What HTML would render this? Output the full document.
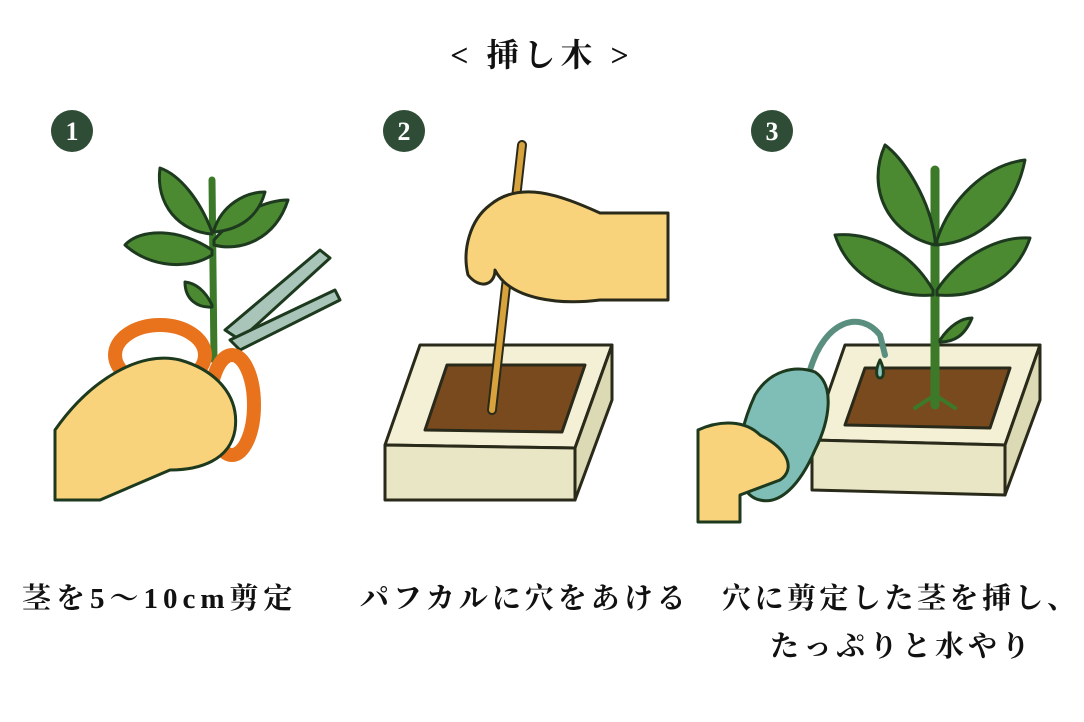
<!DOCTYPE html>
<html><head><meta charset="utf-8"><style>
html,body{margin:0;padding:0;background:#fff;width:1084px;height:722px;overflow:hidden}
.t{position:absolute;font-family:"Liberation Serif","Noto Serif CJK SC","Noto Sans CJK JP",serif;font-weight:bold;color:#111;white-space:nowrap;font-size:29px;letter-spacing:4px}
</style></head><body>
<svg width="1084" height="722" style="position:absolute;left:0;top:0" stroke-linejoin="round" stroke-linecap="round">
<g fill="#2f4d36"><circle cx="72" cy="131" r="21"/><circle cx="404" cy="131" r="21"/><circle cx="772" cy="131" r="21"/></g>
<g fill="#fff" font-family="Liberation Serif,serif" font-weight="bold" font-size="26" text-anchor="middle"><text x="72" y="140">1</text><text x="404" y="140">2</text><text x="772" y="140">3</text></g>
<!-- panel 1 -->
<g stroke="#1d3a1f" stroke-width="3">
<path d="M212 180 L214 360" fill="none" stroke="#3c7a2a" stroke-width="7"/>
<path d="M212 250 C180 228 140 228 125 245 C150 268 190 270 212 255Z" fill="#4c8a32"/>
<path d="M214 240 C240 210 270 200 288 200 C275 240 240 252 214 245Z" fill="#4c8a32"/>
<path d="M212 232 C200 200 180 175 160 168 C155 205 180 232 212 234Z" fill="#4c8a32"/>
<path d="M214 230 C222 205 245 192 265 192 C258 218 238 230 214 232Z" fill="#4c8a32"/>
<path d="M212 305 C205 290 195 283 185 282 C185 300 198 308 212 307Z" fill="#4c8a32"/>
<path d="M225 330 L320 250 L330 258 L240 340Z" fill="#a9c4b8"/>
<path d="M230 340 L335 290 L340 300 L240 350Z" fill="#a9c4b8"/>
<ellipse cx="160" cy="355" rx="45" ry="30" fill="none" stroke="#e8731c" stroke-width="14"/>
<ellipse cx="232" cy="405" rx="22" ry="50" fill="none" stroke="#e8731c" stroke-width="14"/>
<path d="M55 430 C90 380 140 350 180 360 C215 370 240 395 235 430 C230 460 200 470 170 470 L100 500 L55 500Z" fill="#f8d37c"/>
</g>
<!-- panel 2 -->
<g stroke="#2a2a1a" stroke-width="3">
<path d="M385 445 L420 345 L612 345 L575 448Z" fill="#f3f0d5"/>
<path d="M385 445 L575 448 L575 500 L385 500Z" fill="#e9e6c6"/>
<path d="M575 448 L612 345 L612 400 L575 500Z" fill="#dcd9b5"/>
<path d="M425 430 L447 365 L585 365 L562 432Z" fill="#7a4a1f"/>
<path d="M522 145 L492 410" stroke="#2a2a1a" stroke-width="10"/>
<path d="M522 145 L492 410" stroke="#d8a23c" stroke-width="6"/>
<path d="M668 213 L600 213 C560 195 520 180 490 205 C470 220 462 250 468 275 C480 290 495 285 495 270 C510 300 560 305 600 300 L668 300Z" fill="#f8d37c"/>
</g>
<!-- panel 3 -->
<g stroke="#2a2a1a" stroke-width="3">
<path d="M812 440 L845 345 L1040 345 L1005 445Z" fill="#f3f0d5"/>
<path d="M812 440 L1005 445 L1005 495 L812 490Z" fill="#e9e6c6"/>
<path d="M1005 445 L1040 345 L1040 400 L1005 495Z" fill="#dcd9b5"/>
<path d="M845 425 L865 368 L1010 368 L990 428Z" fill="#7a4a1f"/>
</g>
<g stroke="#1d3a1f" stroke-width="3">
<path d="M935 170 L935 405" stroke="#3c7a2a" stroke-width="9"/>
<path d="M915 408 L935 395 L955 408" fill="none" stroke="#3c7a2a" stroke-width="4"/>
<path d="M935 240 C930 200 905 160 885 145 C865 190 890 235 935 245Z" fill="#4c8a32"/>
<path d="M937 240 C950 200 985 165 1025 160 C1015 210 980 242 937 245Z" fill="#4c8a32"/>
<path d="M933 290 C910 250 870 232 835 235 C850 280 895 298 933 295Z" fill="#4c8a32"/>
<path d="M937 290 C960 255 1000 236 1030 238 C1015 282 975 298 937 295Z" fill="#4c8a32"/>
<path d="M940 340 C950 325 962 318 972 318 C965 335 955 342 940 342Z" fill="#4c8a32"/>
<path d="M810 370 C825 320 860 310 880 335 L885 355" fill="none" stroke="#5a8f7f" stroke-width="6"/>
<path d="M880 360 C875 370 876 378 880 378 C884 378 885 370 880 360Z" fill="#8fc6c0"/>
<path d="M755 395 C770 370 795 365 815 372 C835 385 830 420 815 450 C800 485 780 505 760 500 C735 495 730 450 755 395Z" fill="#7fbdb7"/>
<path d="M698 430 C720 420 745 420 760 435 C790 450 795 470 780 480 L740 495 L740 522 L698 522Z" fill="#f8d37c"/>
</g>
</svg>
<div class="t" style="left:0;width:1084px;text-align:center;top:30px;font-size:32px;letter-spacing:5px">&lt; 挿し木 &gt;</div>
<div class="t" style="left:22px;top:576px;letter-spacing:5px">茎を5～10cm剪定</div>
<div class="t" style="left:360px;top:576px">パフカルに穴をあける</div>
<div class="t" style="left:722px;top:576px;letter-spacing:3.5px">穴に剪定した茎を挿し、</div>
<div class="t" style="left:770px;top:624px">たっぷりと水やり</div>
</body></html>
